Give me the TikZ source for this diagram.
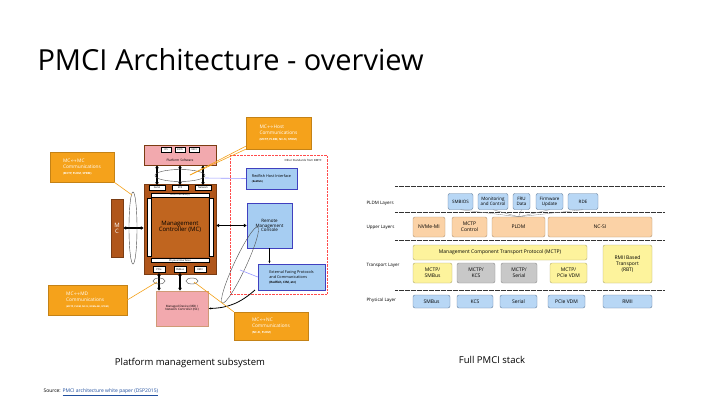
\documentclass[tikz,border=0pt]{standalone}
\usepackage{fontspec}
\setmainfont{Open Sans}
\usetikzlibrary{arrows.meta}
\definecolor{org}{HTML}{F5A21B}
\definecolor{brn}{HTML}{B0561B}
\definecolor{brnl}{HTML}{C0651F}
\definecolor{pnk}{HTML}{F2A9AE}
\definecolor{blu}{HTML}{A6CDF2}
\definecolor{bluB}{HTML}{8DB5E2}
\definecolor{upO}{HTML}{FBD2A6}
\definecolor{yel}{HTML}{FDF39C}
\definecolor{gry}{HTML}{C8C8C8}
\definecolor{lnk}{HTML}{1F4E9E}
\begin{document}
\begin{tikzpicture}[x=1pt,y=-1pt,
  fs/.style={font=\fontsize{#1}{#1}\selectfont},
  callout/.style={draw=org!80!black,fill=org,text=white,align=left,inner sep=1.5pt,font=\fontsize{4.8}{6}\selectfont},
  bcall/.style={draw=blue!50!gray,fill=blu,text=black,align=left,inner sep=1.5pt,font=\fontsize{3.8}{4.8}\selectfont},
  wb/.style={draw=black,fill=white,font=\fontsize{2.5}{3}\selectfont,inner sep=0.5pt},
  dbl/.style={line width=1.4pt,{Latex[length=3pt,width=4pt]}-{Latex[length=3pt,width=4pt]}},
  ring/.style={draw=gray!60!black,line width=0.4pt},
  sbox/.style={draw=#1!70!black,rounded corners=2pt,fill=#1,font=\fontsize{5}{6}\selectfont,align=center,inner sep=0.5pt},
  dl/.style={dash pattern=on 0.6pt off 0.6pt,line width=1pt,black!80},
  lay/.style={font=\fontsize{4.5}{5}\selectfont,anchor=west}]
\useasboundingbox (0,0) rectangle (720,405);
\fill[white] (0,0) rectangle (720,405);
\node[anchor=west,fs=29] (title) at (34,60) {PMCI Architecture - overview};
% ---- left diagram
\draw[red!70,densely dotted] (230,155) rectangle (327,294);
\node[fs=2.8,anchor=north east] (oth) at (325,156) {Other Standards from DMTF};
\node[draw=brn!70!black,fill=pnk,minimum width=72,minimum height=20] (ps) at (180,155) {};
\node[wb,minimum width=10,minimum height=5] (os) at (166,150) {OS};
\node[wb,minimum width=10,minimum height=5] (bios) at (180,150) {BIOS};
\node[wb,minimum width=10,minimum height=5] (uefi) at (194,150) {UEFI};
\node[fs=3.2] (pst) at (180,160) {Platform Software};
\node[draw=brn!70!black,fill=brn,minimum width=72,minimum height=90] (mc) at (180,229) {};
\node[fill=brnl,minimum width=56,minimum height=60,text=black,fs=6,align=center] (mci) at (180,227) {Management\\Controller (MC)};
\node[wb,minimum width=16,minimum height=5] (ser) at (157,188) {Serial};
\node[wb,minimum width=16,minimum height=5] (kcs) at (180,188) {KCS};
\node[wb,minimum width=16,minimum height=5] (net) at (203,188) {Network};
\node[wb,minimum width=58,minimum height=4] (hif) at (180,195) {Host Interface(s)};
\node[wb,minimum width=58,minimum height=4] (phi) at (180,260.5) {Physical Interfaces};
\node[wb,minimum width=4,minimum height=58] (lb) at (149,227) {};
\node[wb,minimum width=4,minimum height=58] (rb) at (211,227) {};
\node[wb,minimum width=12,minimum height=6] (pcie) at (159,269.5) {PCIe};
\node[wb,minimum width=12,minimum height=6] (smb) at (180,269.5) {SMBus};
\node[wb,minimum width=12,minimum height=6] (rmii) at (200,269.5) {RMII};
\node[draw=brn!70!black,fill=brn,minimum width=12,minimum height=58,text=white,fs=6,align=center] (mc2) at (117,228) {M\\C};
\node[draw=blue!50!gray,fill=blu,minimum width=45,minimum height=45,fs=4.5,align=center] (rmc) at (269.5,225.5) {Remote\\Management\\Console};
\node[draw=brn!60,fill=pnk,minimum width=52,minimum height=35,fs=3,align=center] (md) at (182,308.5) {Managed Device (MD) /\\Network Controller (NC)};
\node[bcall,minimum width=51,minimum height=21] (rhi) at (271.5,178.5) {Redfish Host Interface\\{\fontsize{2.5}{3}\selectfont\bfseries(Redfish)}};
\node[bcall,minimum width=67,minimum height=26] (efp) at (291.5,277) {External Facing Protocols\\and Communications\\{\fontsize{3}{4}\selectfont\bfseries(Redfish, CIM, etc)}};
\node[callout,minimum width=65,minimum height=32] (cmh) at (278.5,133) {MC$\leftrightarrow$Host\\Communications\\{\fontsize{2.8}{4}\selectfont\bfseries(MCTP, PLDM, NC-SI, SPDM)}};
\node[callout,minimum width=64,minimum height=30] (cmm) at (82,167) {MC$\leftrightarrow$MC\\Communications\\{\fontsize{2.8}{4}\selectfont\bfseries(MCTP, PLDM, SPDM)}};
\node[callout,minimum width=79,minimum height=30] (cmd) at (87.5,300) {MC$\leftrightarrow$MD\\Communications\\{\fontsize{2.3}{4}\selectfont\bfseries(MCTP, PLDM, NC-SI, NVMe-MI, SPDM)}};
\node[callout,minimum width=74,minimum height=28] (cnc) at (271,326) {MC$\leftrightarrow$NC\\Communications\\{\fontsize{2.8}{4}\selectfont\bfseries(NC-SI, PLDM)}};
% arrows
\draw[dbl] (ser.north |- ps.south) -- (ser.north);
\draw[dbl] (kcs.north |- ps.south) -- (kcs.north);
\draw[dbl] (net.north |- ps.south) -- (net.north);
\draw[ring] (180,175.5) ellipse (25 and 6);
\draw[dbl] (mc2.east) -- (mc.west |- mc2.east);
\draw[ring] (133,228) ellipse (4 and 36);
\draw[dbl] (mc.east |- rmc.west) -- (rmc.west);
\draw[ring,rotate around={-25:(240,265)}] (240,265) ellipse (6 and 42);
\draw[dbl] (pcie.south) -- (pcie.south |- md.north);
\draw[dbl] (smb.south) -- (smb.south |- md.north);
\draw[ring] (159,281) ellipse (6 and 3);
\draw[ring] (192,281) ellipse (6 and 3);
\draw[line width=1pt,-{Latex[length=3pt]}] (rmc.south) -- (rmc.south |- efp.north);
\draw[line width=0.8pt,-{Latex[length=3pt]}] (255,290) to[bend left=20] (md.east);
% callout pointers
\draw[org,line width=0.6pt] (cmh.south west) -- (190,175);
\draw[org,line width=0.6pt] (cmh.south west) ++(0,-3) -- (190,175);
\draw[org,line width=0.6pt] (cmm.south east) -- (132,195);
\draw[org,line width=0.6pt] (cmd.east) -- (157,282);
\draw[org,line width=0.6pt] (cnc.north west) -- (194,282);
\draw[blue!40,line width=0.6pt] (rhi.west) -- (205,178);
\draw[blue!40,line width=0.6pt] (efp.west) -- (240,270);
\node[fs=9.5] (cap1) at (190,363) {Platform management subsystem};
\node[fs=5,anchor=west] (src) at (40,392) {Source: \textcolor{lnk}{\underline{PMCI architecture white paper (DSP2015)}}};
% ---- right stack
\draw[dl] (395,186) -- (664,186);
\draw[dl] (395,212) -- (664,212);
\draw[dl] (395,240) -- (664,240);
\draw[dl] (395,290) -- (664,290);
\node[lay] (l1) at (363,203) {PLDM Layers};
\node[lay] (l2) at (363,227) {Upper Layers};
\node[lay] (l3) at (363,265) {Transport Layer};
\node[lay] (l4) at (363,300) {Physical Layer};
\tikzset{pb/.style={sbox=bluB,fill=blu!80!white,minimum height=16,font=\fontsize{4.5}{5}\selectfont}}
\node[pb,minimum width=25] (smbios) at (460.5,201.5) {SMBIOS};
\node[pb,minimum width=30] (mon) at (493,201.5) {Monitoring\\and Control};
\node[pb,minimum width=17] (fru) at (521.5,201.5) {FRU\\Data};
\node[pb,minimum width=27] (fw) at (549.5,201.5) {Firmware\\Update};
\node[pb,minimum width=30] (rde) at (583,201.5) {RDE};
\tikzset{ub/.style={sbox=upO,minimum height=20}}
\node[ub,minimum width=32] (nvme) at (429,227) {NVMe-MI};
\node[ub,minimum width=35] (mctpc) at (469.5,227) {MCTP\\Control};
\node[ub,minimum width=53] (pldm) at (518.5,227) {PLDM};
\node[ub,minimum width=104] (ncsi) at (600,227) {NC-SI};
\foreach \b in {smbios,mon,fru,fw,rde} \draw[gray,line width=0.3pt] (\b.south) -- (pldm.north);
\tikzset{yb/.style={sbox=yel}}
\node[yb,minimum width=174,minimum height=15] (mctp) at (500,252.5) {Management Component Transport Protocol (MCTP)};
\node[yb,minimum width=39,minimum height=20] (m1) at (432.5,273) {MCTP/\\SMBus};
\node[sbox=gry,minimum width=38,minimum height=20] (m2) at (476,273) {MCTP/\\KCS};
\node[sbox=gry,minimum width=36,minimum height=20] (m3) at (519,273) {MCTP/\\Serial};
\node[yb,minimum width=37,minimum height=20] (m4) at (568.5,273) {MCTP/\\PCIe VDM};
\node[yb,minimum width=49,minimum height=38] (rbt) at (627.5,264) {RMII Based\\Transport\\(RBT)};
\tikzset{phb/.style={sbox=bluB,fill=blu!80!white,minimum height=13}}
\node[phb,minimum width=37] (p1) at (431.5,301.5) {SMBus};
\node[phb,minimum width=36] (p2) at (475,301.5) {KCS};
\node[phb,minimum width=37] (p3) at (518.5,301.5) {Serial};
\node[phb,minimum width=37] (p4) at (566.5,301.5) {PCIe VDM};
\node[phb,minimum width=49] (p5) at (627.5,301.5) {RMII};
\node[fs=9.5] (cap2) at (492,360) {Full PMCI stack};
\end{tikzpicture}
\end{document}
